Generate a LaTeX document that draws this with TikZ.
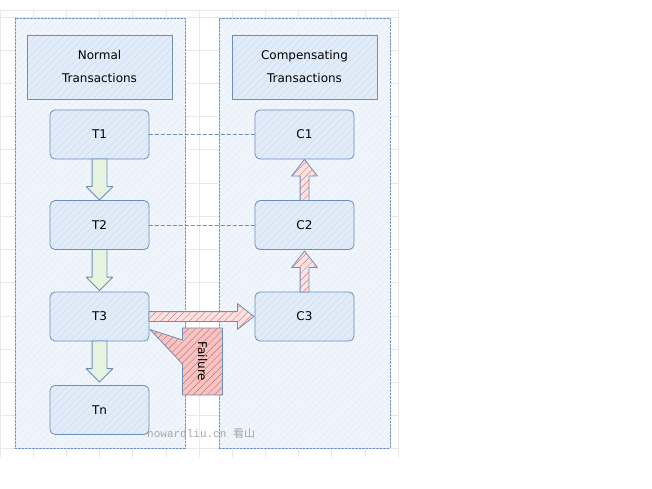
\documentclass[tikz,border=0pt]{standalone}
\usepackage{fontspec}
\setmainfont{DejaVu Sans}
\newfontfamily\wmfont{Liberation Mono}
\newfontfamily\cjkfont{Noto Sans CJK SC}
\usetikzlibrary{shapes.arrows,shapes.callouts,patterns.meta,calc}
\definecolor{gridgray}{HTML}{E8E8E8}
\definecolor{lineblue}{HTML}{6C8EBF}
\definecolor{paleblue}{HTML}{F0F5FC}
\definecolor{fillblue}{HTML}{E2ECF9}
\definecolor{hatchblue}{HTML}{CBDBF2}
\definecolor{fillgreen}{HTML}{E6F3DF}
\definecolor{fillred}{HTML}{FBE3E2}
\definecolor{hatchred}{HTML}{EA7B78}
\tikzset{
	hatch/.style 2 args={preaction={fill=#1},pattern={Lines[angle=45,distance=5pt,line width=.5pt]},pattern color=#2},
	container/.style={draw=lineblue,line width=.8pt,dash pattern=on 2pt off 1.5pt,hatch={paleblue}{hatchblue!60},minimum width=170pt,minimum height=430pt,outer sep=0pt},
	titlebox/.style={draw=lineblue,line width=.8pt,hatch={fillblue}{hatchblue},minimum width=145pt,minimum height=64pt,align=center,outer sep=0pt},
	txbox/.style={draw=lineblue,line width=.8pt,rounded corners=5pt,hatch={fillblue}{hatchblue},minimum width=99pt,minimum height=49pt,outer sep=0pt},
	blockarrow/.style={single arrow,draw=lineblue,line width=.8pt,inner xsep=0pt,outer sep=0pt,anchor=tail},
	downarrow/.style={blockarrow,fill=fillgreen,minimum height=41pt,inner ysep=7pt,single arrow head extend=6pt,rotate=-90},
	uparrow/.style={blockarrow,hatch={fillred}{hatchred},minimum height=41pt,inner ysep=4pt,single arrow head extend=8.5pt,single arrow tip angle=76,rotate=90},
	failarrow/.style={blockarrow,hatch={fillred}{hatchred},minimum height=105pt,inner ysep=4.5pt,single arrow head extend=8pt,single arrow tip angle=76},
	dashline/.style={draw=lineblue,line width=.9pt,dash pattern=on 3.5pt off 2.5pt},
}
\begin{document}
\begin{tikzpicture}[x=1pt,y=-1pt,font=\fontsize{12}{23}\selectfont,line join=round,line cap=round]
	\useasboundingbox (0,0) rectangle (652,489);
	% grid
	\foreach \i in {0,...,12}
	\draw[gridgray,line width=.6pt] ({\i*33.17},10)--({\i*33.17},457);
	\draw[gridgray,line width=.6pt] (0,10)--(398,10);
	\foreach \j in {0,...,13}
	\draw[gridgray,line width=.6pt] (0,{17+\j*33.2})--(398,{17+\j*33.2});
	% columns
	\node[container] (left) at (100,233) {};
	\node[container,minimum width=171pt] (right) at (304.5,233) {};
	\node[titlebox] (normal) at (99.5,67) {Normal\\Transactions};
	\node[titlebox] (comp) at (304.5,67) {Compensating\\Transactions};
	\node[txbox] (t1) at (99.5,134.5) {T1};
	\node[txbox] (t2) at (99.5,225) {T2};
	\node[txbox] (t3) at (99.5,316.5) {T3};
	\node[txbox] (tn) at (99.5,410) {Tn};
	\node[txbox] (c1) at (304.5,134.5) {C1};
	\node[txbox] (c2) at (304.5,225) {C2};
	\node[txbox] (c3) at (304.5,316.5) {C3};
	% links
	\draw[dashline] (t1)--(c1);
	\draw[dashline] (t2)--(c2);
	\path (t1.south)--(t2.north) node[pos=0,downarrow] (a12) {};
	\path (t2.south)--(t3.north) node[pos=0,downarrow] (a23) {};
	\path (t3.south)--(tn.north) node[pos=0,downarrow] (a3n) {};
	\path (c2.north)--(c1.south) node[pos=0,uparrow] (b21) {};
	\path (c3.north)--(c2.south) node[pos=0,uparrow] (b32) {};
	\path (t3.east)--(c3.west) node[pos=0,failarrow] (f33) {};
	% failure note
	\coordinate (tip) at ($(t3.east)+(1,13)$);
	\node[rectangle callout,callout absolute pointer=(tip),callout pointer width=24pt,draw=lineblue,line width=.8pt,
		hatch={fillred!70!hatchred}{hatchred!90!black},minimum width=40pt,minimum height=67pt,inner sep=0pt] (fail) at (202.5,361.5) {\rotatebox{-90}{Failure}};
	% watermark
	\node[gray!70,inner sep=0pt,anchor=west] (mark) at (147,433) {\wmfont\fontsize{11}{11}\selectfont howardliu.cn \cjkfont 看山};
\end{tikzpicture}
\end{document}
